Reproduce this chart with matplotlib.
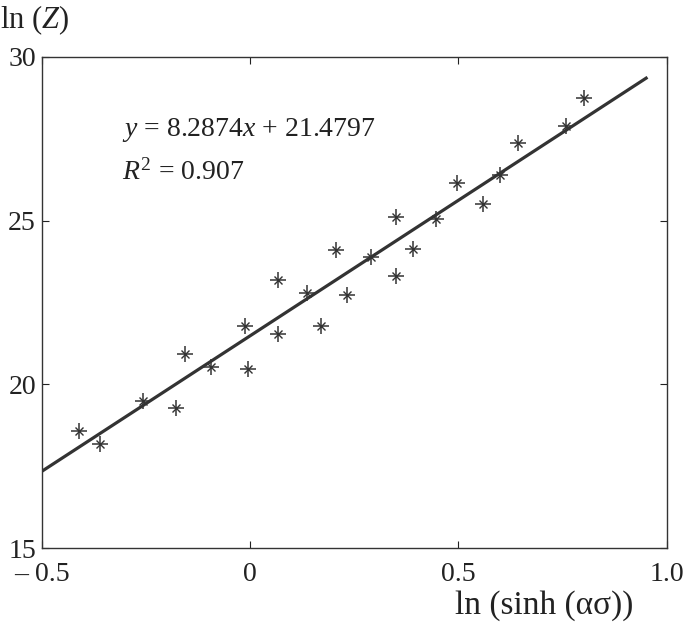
import matplotlib
matplotlib.use("Agg")
import matplotlib.pyplot as plt
import numpy as np

plt.rcParams['font.family'] = ['Liberation Serif', 'DejaVu Serif']
plt.rcParams['mathtext.fontset'] = 'custom'
plt.rcParams['mathtext.rm'] = 'Liberation Serif'
plt.rcParams['mathtext.it'] = 'Liberation Serif:italic'

x_vals = [-0.41, -0.36, -0.257, -0.178, -0.156, -0.094, -0.012, -0.005, 0.066, 0.068,
          0.136, 0.17, 0.206, 0.233, 0.29, 0.35, 0.35, 0.39, 0.445, 0.496,
          0.558, 0.6, 0.642, 0.758, 0.8]
y_vals = [18.58, 18.18, 19.5, 19.27, 20.92, 20.52, 21.77, 20.47, 23.2, 21.55,
          22.8, 21.77, 24.1, 22.73, 23.9, 23.3, 25.1, 24.12, 25.05, 26.15,
          25.52, 26.4, 27.38, 27.88, 28.75]
slope = 8.2874
intercept = 21.4797
r2 = 0.907
fit_x = [-0.5, 0.95]
x_ticks = [-0.5, 0, 0.5, 1.0]
x_tick_labels = ['\u2013 0.5', '0', '0.5', '1.0']
y_ticks = [15, 20, 25, 30]
y_tick_labels = ['15', '20', '25', '30']

fig = plt.figure(figsize=(6.85, 6.26), dpi=100)
ax = fig.add_axes([0.0606, 0.1246, 0.9131, 0.7844])

col = '#333333'
fx = np.array(fit_x)
ax.plot(fx, slope * fx + intercept, color=col, lw=2.3, zorder=2)
ax.plot(x_vals, y_vals, linestyle='none', marker='+', ms=11, mew=1.1, color=col, zorder=3)
ax.plot(x_vals, y_vals, linestyle='none', marker='x', ms=6, mew=1.0, color=col, zorder=3)

ax.set_xlim(-0.5, 1.0)
ax.set_ylim(15, 30)
ax.set_xticks(x_ticks)
ax.set_xticklabels(x_tick_labels)
ax.set_yticks(y_ticks)
ax.set_yticklabels(y_tick_labels)
ax.tick_params(direction='in', length=5, width=0.8, top=True, right=True,
               labelsize=20, colors='#222222')
ax.tick_params(axis='x', pad=10)
ax.tick_params(axis='y', pad=4)
for s in ax.spines.values():
    s.set_linewidth(1.0)
    s.set_color('#333333')

ax.text(-0.307, 27.77, '$y$ = 8.2874$x$ + 21.4797', fontsize=20, va='center', ha='left', color='#222222')
ax.text(-0.307, 26.48, '$R^{2}$ = 0.907', fontsize=20, va='center', ha='left', color='#222222')

fig.text(0.0, 0.968, 'ln ($Z$)', fontsize=22, va='center', ha='left', color='#222222')
fig.text(0.794, 0.033, 'ln (sinh (\u03b1\u03c3))', fontsize=24, va='center', ha='center', color='#222222')

fig.savefig('out.png', dpi=100)
